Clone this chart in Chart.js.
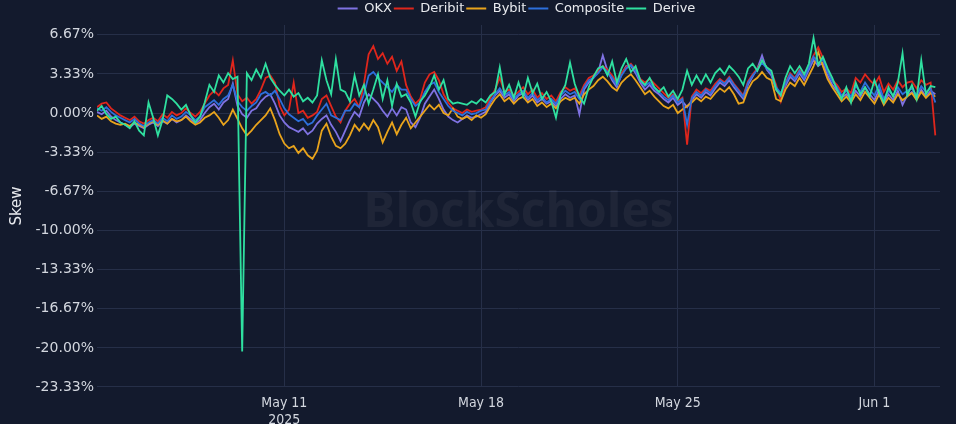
<!DOCTYPE html>
<html>
<head>
<meta charset="utf-8">
<script src="https://cdn.jsdelivr.net/npm/chart.js@4.4.1/dist/chart.umd.min.js"></script>
<style>
  html,body{margin:0;padding:0;background:#131a2d;}
  #wrap{width:956px;height:424px;position:relative;}
</style>
</head>
<body>
<div id="wrap"><canvas id="c" width="956" height="424"></canvas></div>
<script>
// Time: days relative to 2025-05-11 00:00, one sample every 4 hours starting May 4 08:00
const startDay = -6.667;
const stepDay = 1 / 6;

const tickDays = [0, 7, 14, 21];
const tickLabels = [["May 11", "2025"], "May 18", "May 25", "Jun 1"];
const yTicks = [-23.33, -20.00, -16.67, -13.33, -10.00, -6.67, -3.33, 0.00, 3.33, 6.67];

const seriesNames = ["OKX", "Deribit", "Bybit", "Composite", "Derive"];

const okx = [
  0.1,-0.1,0.2,-0.3,-0.6,-0.8,
  -1.0,-1.2,-0.9,-1.1,-1.3,-1.0,
  -0.8,-1.1,-0.7,-0.9,-0.5,-0.8,
  -0.6,-0.2,-0.5,-0.9,-0.6,0.0,
  0.5,0.8,0.3,0.9,1.2,2.5,
  0.6,-0.1,-0.4,0.2,0.4,1.0,
  1.4,1.6,0.8,-0.2,-0.8,-1.2,
  -1.4,-1.6,-1.3,-1.8,-1.5,-0.9,
  -0.5,-0.2,-1.0,-1.6,-2.4,-1.5,
  -0.6,0.1,-0.3,0.9,1.6,1.2,
  0.8,0.2,-0.3,0.4,-0.2,0.5,
  0.3,-0.8,-1.2,-0.4,0.8,1.4,
  2.0,1.2,0.3,-0.3,-0.6,-0.8,
  -0.5,-0.2,-0.4,-0.3,-0.1,0.1,
  0.9,1.5,1.9,1.3,1.6,1.0,
  1.5,1.7,1.1,1.5,0.9,1.2,
  0.8,1.0,0.6,1.2,1.6,1.3,
  1.5,-0.1,2.0,2.6,3.0,3.5,
  4.9,3.6,2.8,2.2,3.3,4.0,
  4.0,3.4,2.6,2.0,2.4,1.9,
  1.6,1.2,0.9,1.3,0.7,1.0,
  0.5,1.1,1.6,1.3,1.8,1.5,
  2.1,2.6,2.3,2.8,2.2,1.7,
  1.2,2.4,3.1,3.8,4.9,3.7,
  3.2,2.0,1.4,2.3,3.1,2.7,
  3.4,2.8,3.7,4.5,4.0,4.3,
  3.2,2.4,1.9,1.3,1.6,1.2,
  1.9,1.4,2.2,1.6,1.1,2.0,
  0.9,1.6,1.1,1.9,0.7,1.5,
  1.8,1.2,2.0,1.4,1.9,1.6
];

const deribit = [
  0.5,0.8,0.9,0.4,0.1,-0.2,
  -0.4,-0.6,-0.3,-0.7,-0.9,-0.6,
  -0.4,-0.7,-0.1,-0.4,0.1,-0.2,
  0.0,0.4,0.0,-0.3,0.1,0.8,
  1.5,1.9,1.5,2.1,2.4,4.5,
  1.6,1.0,1.3,0.8,1.2,2.0,
  3.0,3.2,2.6,0.6,-0.2,0.3,
  2.6,0.0,0.2,-0.4,-0.2,0.1,
  1.2,1.5,0.6,-0.3,-0.8,0.2,
  0.8,1.2,0.5,2.5,5.0,5.7,
  4.6,5.1,4.2,4.8,3.6,4.4,
  2.4,1.4,0.8,1.2,2.6,3.3,
  3.5,2.8,1.6,0.9,0.4,0.2,
  0.0,0.3,0.1,0.2,0.3,0.5,
  1.3,2.0,3.0,1.8,2.0,1.5,
  1.8,2.2,1.6,2.0,1.3,1.7,
  1.2,1.5,1.0,1.8,2.2,1.9,
  2.1,1.5,2.4,3.0,3.2,3.6,
  4.0,3.7,3.2,2.6,3.4,3.9,
  4.2,3.7,2.9,2.6,2.9,2.5,
  2.1,1.7,1.3,1.6,1.0,1.3,
  -2.7,1.4,2.0,1.7,2.1,1.9,
  2.5,2.9,2.6,3.1,2.5,2.0,
  1.5,2.7,3.3,3.8,4.4,3.9,
  3.5,2.4,1.0,2.6,3.4,3.0,
  3.7,3.2,4.0,4.9,5.6,4.7,
  3.6,2.8,2.4,1.8,2.1,1.7,
  3.0,2.6,3.3,2.8,2.4,3.1,
  1.8,2.5,2.0,2.8,2.2,2.6,
  2.7,2.1,2.8,2.4,2.6,-1.9
];

const bybit = [
  -0.2,-0.5,-0.3,-0.7,-0.9,-1.0,
  -0.9,-1.1,-0.8,-1.0,-1.2,-0.9,
  -0.7,-1.0,-0.6,-0.9,-0.5,-0.7,
  -0.6,-0.3,-0.7,-1.0,-0.8,-0.4,
  -0.2,0.1,-0.4,-1.0,-0.6,0.3,
  -0.5,-1.3,-1.9,-1.5,-1.0,-0.6,
  -0.2,0.4,-0.6,-1.8,-2.6,-3.0,
  -2.8,-3.4,-3.0,-3.6,-3.9,-3.2,
  -1.5,-0.9,-2.0,-2.8,-3.0,-2.6,
  -1.9,-1.0,-1.5,-0.9,-1.4,-0.6,
  -1.2,-2.5,-1.6,-0.8,-1.8,-1.0,
  -0.4,-1.3,-0.8,-0.3,0.2,0.7,
  0.3,0.7,0.0,-0.2,0.4,-0.3,
  -0.5,-0.3,-0.6,-0.2,-0.4,-0.1,
  0.6,1.2,1.6,1.0,1.3,0.8,
  1.2,1.4,0.9,1.2,0.6,0.9,
  0.5,0.8,0.4,1.0,1.3,1.1,
  1.3,0.8,1.6,2.0,2.3,2.8,
  3.1,2.7,2.2,1.9,2.6,3.0,
  3.3,2.8,2.2,1.6,1.9,1.4,
  1.0,0.6,0.4,0.7,0.0,0.3,
  0.6,0.9,1.3,1.0,1.4,1.2,
  1.7,2.1,1.8,2.2,1.6,0.8,
  0.9,2.0,2.7,3.0,3.5,3.0,
  2.8,1.2,1.0,2.0,2.6,2.3,
  3.0,2.4,3.2,4.0,5.2,4.0,
  2.9,2.2,1.6,1.0,1.4,0.9,
  1.6,1.1,1.8,1.3,0.8,1.6,
  0.7,1.3,0.9,1.6,1.1,1.4,
  1.7,1.1,1.8,1.3,1.7,1.4
];

const composite = [
  0.4,0.2,0.5,0.1,-0.2,-0.4,
  -0.6,-0.8,-0.5,-0.9,-1.1,-0.8,
  -0.6,-0.9,-0.4,-0.7,-0.2,-0.5,
  -0.3,0.1,-0.2,-0.6,-0.3,0.5,
  0.8,1.1,0.7,1.2,1.5,2.4,
  1.0,0.5,0.2,0.6,0.9,1.6,
  1.8,1.5,1.9,1.2,0.4,-0.1,
  -0.4,-0.7,-0.5,-1.0,-0.8,-0.2,
  0.3,0.8,-0.2,-0.4,-0.6,0.2,
  0.2,0.8,0.5,1.6,3.2,3.5,
  3.0,2.6,2.2,1.8,2.4,2.0,
  2.0,1.2,0.6,0.9,1.8,2.4,
  2.6,1.8,1.2,0.6,0.2,0.0,
  -0.2,0.1,-0.1,0.0,0.2,0.3,
  1.0,1.6,2.1,1.5,1.8,1.2,
  1.6,1.9,1.3,1.7,1.1,1.4,
  0.9,1.2,0.8,1.5,1.9,1.6,
  1.8,1.2,2.2,2.8,3.0,3.4,
  3.9,3.5,3.0,2.4,3.2,3.8,
  4.1,3.6,2.8,2.3,2.6,2.1,
  1.8,1.4,1.1,1.5,0.9,1.2,
  -1.0,1.3,1.8,1.5,2.0,1.7,
  2.3,2.8,2.5,3.0,2.4,1.9,
  1.4,2.6,3.2,3.7,4.3,3.8,
  3.4,2.2,1.7,2.5,3.3,2.9,
  3.6,3.0,3.9,4.8,4.2,4.6,
  3.5,2.7,2.2,1.5,1.9,1.4,
  2.3,1.8,2.6,2.0,1.5,2.4,
  1.2,1.9,1.5,2.2,1.6,1.9,
  2.1,1.5,2.3,1.8,2.1,0.9
];

const derive = [
  0.2,0.6,-0.1,-0.5,-0.3,-0.8,
  -1.0,-1.3,-0.7,-1.5,-1.9,0.9,
  -0.4,-1.9,-0.6,1.5,1.2,0.8,
  0.3,0.7,-0.2,-0.8,-0.3,0.9,
  2.4,1.8,3.2,2.6,3.4,2.9,
  3.1,-20.3,3.4,2.8,3.7,3.0,
  4.2,3.0,2.4,1.9,1.5,2.0,
  1.4,1.7,1.0,1.3,0.9,1.5,
  4.5,2.8,1.6,4.6,2.0,1.8,
  1.0,3.2,1.5,2.4,0.8,2.0,
  3.3,1.2,2.8,0.6,2.5,1.4,
  1.6,0.9,-0.3,1.0,1.5,2.2,
  3.2,2.0,2.8,1.2,0.8,0.9,
  0.8,0.7,1.0,0.8,1.2,0.9,
  1.5,1.8,3.9,1.6,2.4,1.3,
  2.6,1.4,3.0,1.7,2.5,1.2,
  1.8,1.0,-0.4,1.6,2.4,4.3,
  2.5,1.4,0.8,2.2,3.1,3.8,
  4.0,3.2,4.4,2.6,3.8,4.6,
  3.5,4.0,2.8,2.4,3.0,2.2,
  1.8,2.2,1.4,1.9,1.2,2.0,
  3.6,2.4,3.2,2.5,3.3,2.6,
  3.4,3.8,3.3,4.0,3.6,3.1,
  2.4,3.8,4.2,3.6,4.5,3.9,
  3.6,2.0,1.5,3.0,4.0,3.4,
  4.0,3.3,4.2,6.4,4.1,4.8,
  3.8,3.0,2.0,1.2,2.2,0.9,
  2.6,1.6,2.2,1.4,2.8,1.7,
  0.9,2.2,1.4,2.6,5.1,1.5,
  2.4,1.2,4.5,1.6,2.3,2.2
];

const seriesValues = [okx, deribit, bybit, composite, derive];
const seriesColors = ["#7f72e2", "#e0261c", "#e9a41c", "#2d6fdc", "#2fe0a0"];
const seriesOrder = [4, 3, 2, 1, 0];

const datasets = seriesNames.map((name, k) => ({
  label: name,
  data: seriesValues[k].map((v, i) => ({ x: startDay + i * stepDay, y: v })),
  borderColor: seriesColors[k],
  backgroundColor: seriesColors[k],
  borderWidth: 1.8,
  pointRadius: 0,
  pointHoverRadius: 0,
  pointStyle: 'line',
  tension: 0,
  order: seriesOrder[k]
}));

const gridColor = "#262f48";
const textColor = "#d3d7df";
const mainFont = "'DejaVu Sans', Verdana, sans-serif";

const watermark = {
  id: 'watermark',
  beforeDatasetsDraw(chart) {
    const { ctx, chartArea } = chart;
    ctx.save();
    ctx.font = "bold 48px 'Open Sans', sans-serif";
    ctx.fillStyle = "rgba(255,255,255,0.05)";
    ctx.textAlign = "center";
    ctx.textBaseline = "middle";
    ctx.fillText("BlockScholes", (chartArea.left + chartArea.right) / 2, 213);
    ctx.restore();
  }
};

const legendShift = {
  id: 'legendShift',
  afterLayout(chart) {
    const lg = chart.legend;
    const dx = (chart.chartArea.left + chart.chartArea.right) / 2 - chart.width / 2 + 6;
    lg.left += dx; lg.right += dx;
  }
};

new Chart(document.getElementById('c'), {
  type: 'line',
  data: { datasets },
  plugins: [watermark, legendShift],
  options: {
    responsive: false,
    animation: false,
    layout: { padding: { left: 0, right: 16, top: 0, bottom: 0 } },
    plugins: {
      legend: {
        position: 'top',
        align: 'center',
        labels: {
          color: "#e8eaee",
          font: { family: mainFont, size: 13 },
          usePointStyle: true,
          pointStyleWidth: 20,
          boxHeight: 2,
          padding: 2,
          sort: (a, b) => a.datasetIndex - b.datasetIndex
        }
      },
      tooltip: { enabled: false }
    },
    scales: {
      x: {
        type: 'linear',
        min: startDay,
        max: startDay + 30,
        afterBuildTicks(scale) { scale.ticks = tickDays.map(v => ({ value: v })); },
        afterFit(scale) { scale.height = 37; },
        ticks: {
          color: textColor,
          font: { family: "'Liberation Sans Narrow', 'DejaVu Sans Condensed', sans-serif", size: 14 },
          maxRotation: 0,
          autoSkip: false,
          padding: 8,
          callback(value) { const i = tickDays.indexOf(value); return i >= 0 ? tickLabels[i] : ''; }
        },
        grid: { color: gridColor, drawTicks: false, lineWidth: 1 },
        border: { display: false }
      },
      y: {
        min: -23.333,
        max: 7.5,
        afterBuildTicks(scale) { scale.ticks = yTicks.map(v => ({ value: v })); },
        afterFit(scale) { scale.width = 97; },
        title: {
          display: true,
          text: "Skew",
          color: "#e8eaee",
          font: { family: mainFont, size: 15 },
          padding: { top: 8, bottom: 0 }
        },
        ticks: {
          color: textColor,
          font: { family: mainFont, size: 14 },
          padding: 3,
          callback(value) { return value.toFixed(2) + '%'; }
        },
        grid: { color: gridColor, drawTicks: false, lineWidth: 1 },
        border: { display: false }
      }
    }
  }
});
</script>
</body>
</html>
